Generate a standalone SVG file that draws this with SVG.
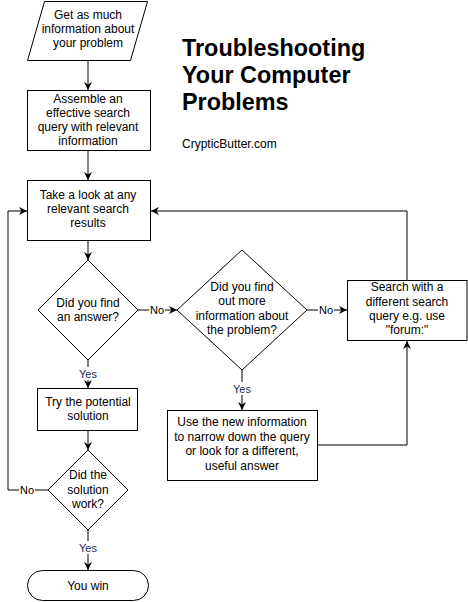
<svg xmlns="http://www.w3.org/2000/svg" width="468" height="602" viewBox="0 0 468 602">
<style>
.shape{fill:#fff;stroke:#000;stroke-width:1}
.t{font-family:"Liberation Sans",Arial,sans-serif;font-size:12px;fill:#000;text-anchor:middle}
.title{font-family:"Liberation Sans",Arial,sans-serif;font-size:23.4px;font-weight:bold;fill:#000}
.sub{font-family:"Liberation Sans",Arial,sans-serif;font-size:12px;fill:#000}
.edge{fill:none;stroke:#000;stroke-width:1}
.lbl{font-family:"Liberation Sans",Arial,sans-serif;font-size:11px;text-anchor:middle}
.no{fill:#000}
.yes{fill:#1c2c5c}
.lblbg{fill:#fff}
</style>
<defs>
<marker id="arr" viewBox="0 0 10 10" markerWidth="8" markerHeight="8" refX="10" refY="5" orient="auto" markerUnits="userSpaceOnUse">
<path d="M0,0 L10,5 L0,10 L3,5 z" fill="#000"/>
</marker>
</defs>
<rect width="468" height="602" fill="#fff"/>

<g id="title">
<text class="title" x="182" y="56">Troubleshooting</text>
<text class="title" x="182" y="83">Your Computer</text>
<text class="title" x="182" y="110">Problems</text>
<text class="sub" x="182" y="148">CrypticButter.com</text>
</g>

<g id="connectors">
<path class="edge" d="M88,61 L88,90" marker-end="url(#arr)"/>
<path class="edge" d="M88,151 L88,180" marker-end="url(#arr)"/>
<path class="edge" d="M88,241 L88,260" marker-end="url(#arr)"/>
<path class="edge" d="M138,310 L177,310" marker-end="url(#arr)"/>
<path class="edge" d="M307,310 L347,310" marker-end="url(#arr)"/>
<path class="edge" d="M242,370 L242,410" marker-end="url(#arr)"/>
<path class="edge" d="M318,445 L407,445 L407,341" marker-end="url(#arr)"/>
<path class="edge" d="M407,280 L407,211 L151,211" marker-end="url(#arr)"/>
<path class="edge" d="M88,360 L88,388" marker-end="url(#arr)"/>
<path class="edge" d="M88,431 L88,450" marker-end="url(#arr)"/>
<path class="edge" d="M48,490 L8,490 L8,211 L27,211" marker-end="url(#arr)"/>
<path class="edge" d="M88,530 L88,570" marker-end="url(#arr)"/>
<rect class="lblbg" x="149" y="303" width="16" height="13"/>
<text class="lbl no" x="157" y="314">No</text>
<rect class="lblbg" x="318" y="303" width="16" height="13"/>
<text class="lbl no" x="326" y="314">No</text>
<rect class="lblbg" x="231" y="382" width="22" height="13"/>
<text class="lbl yes" x="242" y="393">Yes</text>
<rect class="lblbg" x="77" y="367" width="22" height="13"/>
<text class="lbl yes" x="88" y="378">Yes</text>
<rect class="lblbg" x="19" y="483" width="16" height="13"/>
<text class="lbl no" x="27" y="494">No</text>
<rect class="lblbg" x="77" y="541" width="22" height="13"/>
<text class="lbl yes" x="88" y="552">Yes</text>
</g>

<g id="n-info">
<polygon class="shape" points="44.5,1.5 147.5,1.5 130.5,60.5 27.5,60.5"/>
<text class="t" x="88" y="19">Get as much</text>
<text class="t" x="88" y="33">information about</text>
<text class="t" x="88" y="47">your problem</text>
</g>

<g id="n-assemble">
<rect class="shape" x="27.5" y="90.5" width="123" height="60"/>
<text class="t" x="88" y="103">Assemble an</text>
<text class="t" x="88" y="117">effective search</text>
<text class="t" x="88" y="131">query with relevant</text>
<text class="t" x="88" y="145">information</text>
</g>

<g id="n-look">
<rect class="shape" x="27.5" y="180.5" width="123" height="60"/>
<text class="t" x="88" y="199">Take a look at any</text>
<text class="t" x="88" y="213">relevant search</text>
<text class="t" x="88" y="227">results</text>
</g>

<g id="n-answer">
<polygon class="shape" points="88,260 138,310 88,360 38,310"/>
<text class="t" x="88" y="307">Did you find</text>
<text class="t" x="88" y="321">an answer?</text>
</g>

<g id="n-moreinfo">
<polygon class="shape" points="242,250 307,310 242,370 177,310"/>
<text class="t" x="242" y="291">Did you find</text>
<text class="t" x="242" y="305">out more</text>
<text class="t" x="242" y="320">information about</text>
<text class="t" x="242" y="334">the problem?</text>
</g>

<g id="n-search">
<rect class="shape" x="347.5" y="280.5" width="119.5" height="60"/>
<text class="t" x="407" y="291">Search with a</text>
<text class="t" x="407" y="306">different search</text>
<text class="t" x="407" y="320">query e.g. use</text>
<text class="t" x="407" y="334">"forum:"</text>
</g>

<g id="n-use">
<rect class="shape" x="167.5" y="410.5" width="150" height="70"/>
<text class="t" x="242" y="426">Use the new information</text>
<text class="t" x="242" y="441">to narrow down the query</text>
<text class="t" x="242" y="455">or look for a different,</text>
<text class="t" x="242" y="470">useful answer</text>
</g>

<g id="n-try">
<rect class="shape" x="37.5" y="388.5" width="100" height="42"/>
<text class="t" x="88" y="406">Try the potential</text>
<text class="t" x="88" y="420">solution</text>
</g>

<g id="n-work">
<polygon class="shape" points="88,450 128,490 88,530 48,490"/>
<text class="t" x="88" y="479">Did the</text>
<text class="t" x="88" y="494">solution</text>
<text class="t" x="88" y="508">work?</text>
</g>

<g id="n-win">
<rect class="shape" x="27.5" y="570.5" width="121" height="30" rx="15" ry="15"/>
<text class="t" x="88" y="590">You win</text>
</g>
</svg>
